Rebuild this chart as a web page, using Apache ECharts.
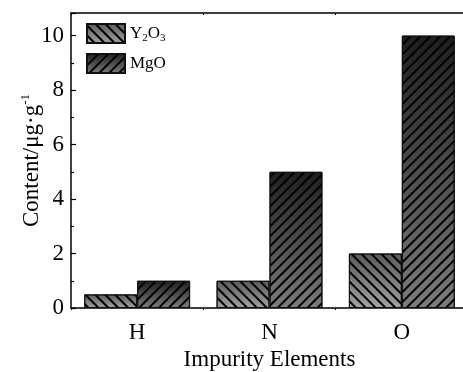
<!DOCTYPE html>
<html><head><meta charset="utf-8">
<script src="https://cdn.jsdelivr.net/npm/echarts@6/dist/echarts.min.js"></script>
<style>html,body{margin:0;padding:0;background:#fff}#c{width:463px;height:372px}</style>
</head><body><div id="c"></div>
<script>
const categories = ['H', 'N', 'O'];
const seriesNames = ['Y2O3', 'MgO'];
const y2o3Values = [0.5, 1, 2];
const mgoValues = [1, 5, 10];
const yTicks = [0, 2, 4, 6, 8, 10];

const FONT = 'Liberation Serif';
const chart = echarts.init(document.getElementById('c'));
function grad(top, bottom) {
  return new echarts.graphic.LinearGradient(0, 0, 0, 1, [{offset: 0, color: top}, {offset: 1, color: bottom}]);
}
function decal(rot) {
  return {symbol: 'rect', symbolSize: 1, dashArrayX: [1, 0], dashArrayY: [1.1, 4.3], rotation: rot, color: '#000'};
}
chart.setOption({
  animation: false,
  grid: {left: 71, width: 397, top: 13, height: 295, show: false, outerBoundsMode: 'none', containLabel: false},
  legend: {
    orient: 'vertical', left: 86, top: 23, padding: 0, itemWidth: 38, itemHeight: 19, itemGap: 9,
    icon: 'rect',
    data: seriesNames,
    textStyle: {fontFamily: FONT, fontSize: 17, color: '#000',
      rich: {sub: {fontFamily: FONT, fontSize: 11, color: '#000', verticalAlign: 'bottom', padding: [10, 0, 0, 0]}}},
    formatter: n => n === 'Y2O3' ? 'Y{sub|2}O{sub|3}' : n
  },
  xAxis: [{
    type: 'category', data: categories, position: 'bottom',
    axisLine: {lineStyle: {color: '#000', width: 1.5}},
    axisTick: {show: true, inside: false, length: 2, lineStyle: {color: '#000'}},
    axisLabel: {fontFamily: FONT, fontSize: 23, color: '#000', margin: 13},
    name: 'Impurity Elements', nameLocation: 'middle', nameGap: 38,
    nameTextStyle: {fontFamily: FONT, fontSize: 23, color: '#000'}
  }, {
    type: 'category', data: categories, position: 'top',
    axisLine: {lineStyle: {color: '#000', width: 1.5}},
    axisTick: {show: true, inside: true, length: 2, lineStyle: {color: '#000'}},
    axisLabel: {show: false}
  }],
  yAxis: {
    type: 'value', min: 0, max: 10.83, interval: 2,
    axisLine: {show: true, lineStyle: {color: '#000', width: 1.5}},
    axisTick: {show: true, inside: true, length: 5, lineStyle: {color: '#000', width: 1.2}},
    minorTick: {show: true, splitNumber: 2, length: 3, lineStyle: {color: '#000', width: 1.2}},
    splitLine: {show: false},
    axisLabel: {fontFamily: FONT, fontSize: 23, color: '#000', margin: 7, showMaxLabel: false,
      formatter: v => yTicks.indexOf(v) >= 0 ? String(v) : ''},
    name: 'Content/μg·g{sup|-1}', nameLocation: 'middle', nameGap: 27, nameRotate: 90,
    nameMoveOverlap: false,
    nameTextStyle: {fontFamily: FONT, fontSize: 23, color: '#000',
      rich: {sup: {fontFamily: FONT, fontSize: 13, color: '#000', verticalAlign: 'top', padding: [0, 0, 12, 0]}}}
  },
  series: [{
    name: 'Y2O3', type: 'bar', data: y2o3Values, barGap: '0%', barCategoryGap: '20%',
    itemStyle: {color: grad('#5a5a5a', '#a2a2a2'), borderColor: '#111', borderWidth: 1, decal: decal(Math.PI / 4)}
  }, {
    name: 'MgO', type: 'bar', data: mgoValues, barGap: '0%', barCategoryGap: '20%',
    itemStyle: {color: grad('#1e1e1e', '#7c7c7c'), borderColor: '#111', borderWidth: 1, decal: decal(-Math.PI / 4)}
  }]
});
</script></body></html>
